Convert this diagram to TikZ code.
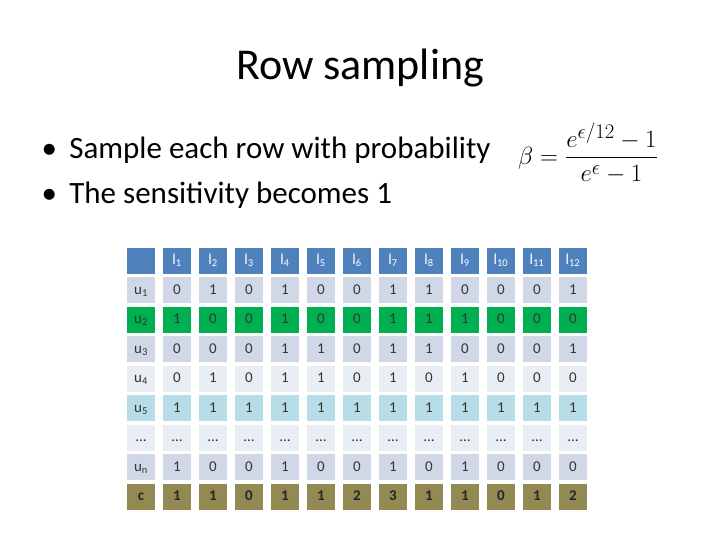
\documentclass[tikz,border=0pt]{standalone}
\usepackage{fontspec}
\setmainfont{Carlito}
\usepackage{amsmath}
\begin{document}
\begin{tikzpicture}[x=1pt,y=-1pt,
  cell/.style={minimum width=28pt,minimum height=26pt,inner sep=0pt,text height=10pt,text depth=2pt,font=\fontsize{15}{15}\selectfont,text=black!80},
  hdr/.style={cell,fill=hblue,text=white},
  ra/.style={cell,fill=rowa},
  rb/.style={cell,fill=rowb},
  rg/.style={cell,fill=rowg},
  rl/.style={cell,fill=rowl},
  rc/.style={cell,fill=rowc,font=\fontsize{15}{15}\selectfont\bfseries,text=black!85}]
\definecolor{hblue}{HTML}{4F81BD}
\definecolor{rowa}{HTML}{D0D8E8}
\definecolor{rowb}{HTML}{E9EDF4}
\definecolor{rowg}{HTML}{00B050}
\definecolor{rowl}{HTML}{B7DDE8}
\definecolor{rowc}{HTML}{938953}
\useasboundingbox (0,0) rectangle (720,540);
\node (title) at (360,68) {\fontsize{44}{44}\selectfont Row sampling};
\node[anchor=west] (b1) at (38,150) {\fontsize{31}{31}\selectfont •\hspace{0.4em}Sample each row with probability};
\node[anchor=west] (b2) at (38,195) {\fontsize{31}{31}\selectfont •\hspace{0.4em}The sensitivity becomes 1};
\node (f) at (588,153) {\fontsize{28}{28}\selectfont $\beta=\dfrac{e^{\epsilon/12}-1}{e^{\epsilon}-1}$};
\foreach \c in {0,...,12}{
  \pgfmathsetmacro\xx{141+36*\c}
  \ifnum\c=0 \node[hdr] (h0) at (\xx,260.5) {};
  \else \node[hdr] (h\c) at (\xx,260.5) {l\textsubscript{\c}};\fi
}
\foreach \r/\lab/\st/\vals in {1/u\textsubscript{1}/ra/{0,1,0,1,0,0,1,1,0,0,0,1},
  2/u\textsubscript{2}/rg/{1,0,0,1,0,0,1,1,1,0,0,0},
  3/u\textsubscript{3}/ra/{0,0,0,1,1,0,1,1,0,0,0,1},
  4/u\textsubscript{4}/rb/{0,1,0,1,1,0,1,0,1,0,0,0},
  5/u\textsubscript{5}/rl/{1,1,1,1,1,1,1,1,1,1,1,1},
  6/…/rb/{…,…,…,…,…,…,…,…,…,…,…,…},
  7/u\textsubscript{n}/ra/{1,0,0,1,0,0,1,0,1,0,0,0},
  8/c/rc/{1,1,0,1,1,2,3,1,1,0,1,2}}{
  \pgfmathsetmacro\yy{260.5+29.5*\r}
  \node[\st] (c\r-0) at (141,\yy) {\lab};
  \foreach \v [count=\c] in \vals {
    \pgfmathsetmacro\xx{141+36*\c}
    \node[\st] (c\r-\c) at (\xx,\yy) {\v};
  }
}
\end{tikzpicture}
\end{document}
